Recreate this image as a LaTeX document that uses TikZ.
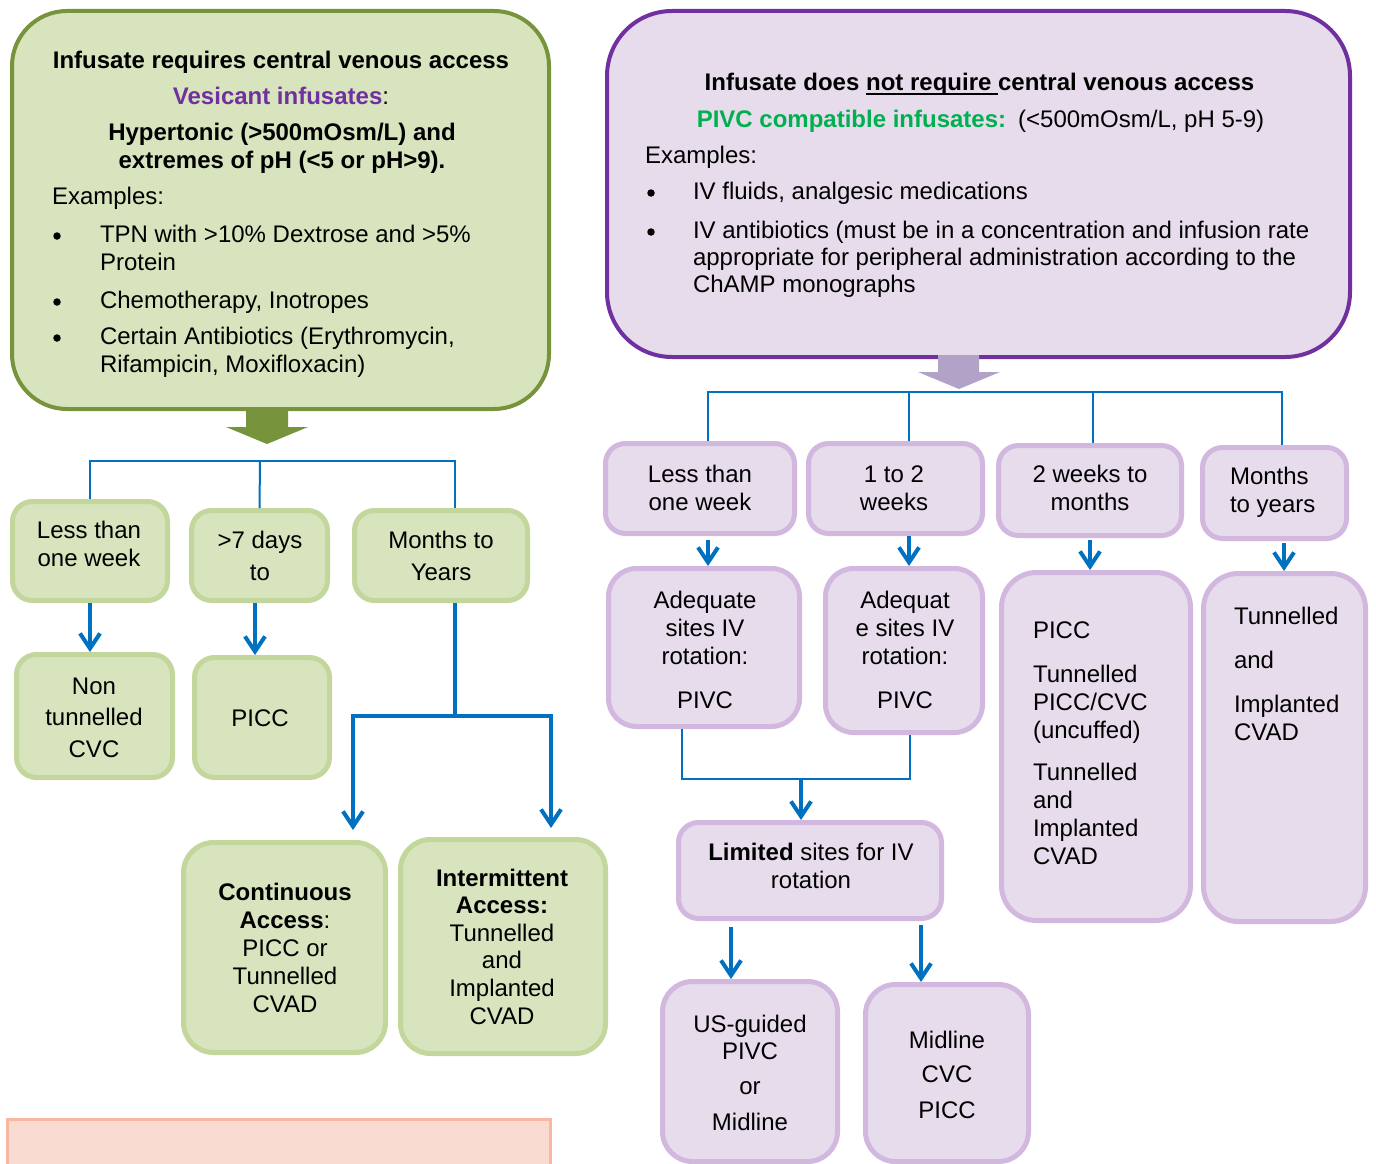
\documentclass[tikz,border=0pt]{standalone}
\usepackage{fontspec}
\setmainfont{Liberation Sans}
\usetikzlibrary{arrows.meta,calc}
\definecolor{gfill}{HTML}{D7E4BD}
\definecolor{gborder}{HTML}{77933C}
\definecolor{gnode}{HTML}{C3D69B}
\definecolor{pfill}{HTML}{E6DCEC}
\definecolor{pborder}{HTML}{7030A0}
\definecolor{pnode}{HTML}{D2B7DE}
\definecolor{parrowc}{HTML}{B3A2C7}
\definecolor{lblue}{HTML}{0070C0}
\definecolor{vpurple}{HTML}{7030A0}
\definecolor{pgreen}{HTML}{00B050}
\definecolor{pinkfill}{HTML}{FADBD2}
\definecolor{pinkborder}{HTML}{F7B7A3}
\newcommand\st{\rule[-7pt]{0pt}{26pt}}
\newcommand\myul[1]{\setbox0\hbox{#1}\rlap{\rule[-3.5pt]{\wd0}{1.5pt}}\box0}
\begin{document}
\begin{tikzpicture}[x=1pt,y=-1pt,
  gbig/.style={draw=gborder, fill=gfill, line width=4pt, rounded corners=55pt, inner sep=0pt},
  pbig/.style={draw=pborder, fill=pfill, line width=4pt, rounded corners=65pt, inner sep=0pt},
  gbox/.style={draw=gnode, fill=gfill, line width=5pt, rounded corners=20pt, inner sep=0pt},
  pbox/.style={draw=pnode, fill=pfill, line width=5pt, rounded corners=20pt, inner sep=0pt},
  txt/.style={inner sep=0pt, outer sep=0pt, font=\fontsize{24}{28}\selectfont, align=center},
  ltxt/.style={txt, align=left, anchor=west},
  bul/.style={circle, fill=black, minimum size=7.5pt, inner sep=0pt},
  thinln/.style={draw=lblue, line width=2pt},
  thickln/.style={draw=lblue, line width=4.5pt},
  arr/.style={draw=lblue, line width=4pt, -{Straight Barb[length=15pt,width=20pt]}},
]
\useasboundingbox (0,0) rectangle (1376,1164);
\fill[white] (0,0) rectangle (1376,1164);
\clip (0,0) rectangle (1376,1164);

% ---------- big boxes ----------
\node[gbig, minimum width=537pt, minimum height=398pt] (gbig) at (280.5,210) {};
\node[pbig, minimum width=743pt, minimum height=346pt] (pbig) at (978.5,184) {};

% block arrows
\fill[gborder] (246,407) -- (288,407) -- (288,427) -- (308,427) -- (267,444) -- (226,427) -- (246,427) -- cycle;
\fill[parrowc] (938,355) -- (979,355) -- (979,372) -- (1000,372) -- (959,389) -- (918,372) -- (938,372) -- cycle;

% left big box text
\node[txt, font=\fontsize{24}{28}\selectfont\bfseries] (gt1) at (281,63) {\st Infusate requires central venous access};
\node[txt] (gt2) at (281,98) {\st\textcolor{vpurple}{\textbf{Vesicant infusates}}:};
\node[txt, font=\fontsize{24}{28}\selectfont\bfseries] (gt3) at (282,148) {\st Hypertonic (>500mOsm/L) and\\extremes of pH (<5 or pH>9).\st};
\node[ltxt] (gt4) at (52,198) {\st Examples:};
\node[bul] (gb1) at (57,236) {};
\node[ltxt] (gt5) at (100,250) {\st TPN with >10\% Dextrose and >5\%\\Protein\st};
\node[bul] (gb2) at (57,302) {};
\node[ltxt] (gt6) at (100,302) {\st Chemotherapy, Inotropes};
\node[bul] (gb3) at (57,338) {};
\node[ltxt] (gt7) at (100,352) {\st Certain Antibiotics (Erythromycin,\\Rifampicin, Moxifloxacin)\st};

% right big box text
\node[txt, font=\fontsize{24}{28}\selectfont\bfseries] (pt1) at (979.5,85) {\st Infusate does \myul{not require\ }central venous access};
\node[txt] (pt2) at (980.5,121) {\st\textcolor{pgreen}{\textbf{PIVC compatible infusates:}}\hspace{12pt}(<500mOsm/L, pH 5-9)};
\node[ltxt] (pt3) at (645,157) {\st Examples:};
\node[bul] (pb1) at (651,193) {};
\node[ltxt] (pt4) at (693,193) {\st IV fluids, analgesic medications};
\node[bul] (pb2) at (651,232) {};
\node[ltxt, font=\fontsize{24}{27}\selectfont] (pt5) at (693,259) {\st IV antibiotics (must be in a concentration and infusion rate\\appropriate for peripheral administration according to the\\ChAMP monographs\st};

% ---------- left tree ----------
\node[gbox, minimum width=155pt, minimum height=99pt] (gL1) at (90,551) {};
\node[gbox, minimum width=136pt, minimum height=90pt] (gL2) at (259.5,555.5) {};
\node[gbox, minimum width=173pt, minimum height=90pt] (gL3) at (441,555.5) {};
\node[gbox, minimum width=156pt, minimum height=123pt] (gN) at (94.5,716) {};
\node[gbox, minimum width=135pt, minimum height=120pt] (gP) at (262,717.5) {};
\node[gbox, rounded corners=30pt, minimum width=202pt, minimum height=210pt] (gC) at (284.5,947.5) {};
\node[gbox, rounded corners=30pt, minimum width=205pt, minimum height=214pt] (gI) at (503,946.5) {};

\node[txt] (tL1) at (89,546) {\st Less than\\one week\st};
\node[txt, font=\fontsize{24}{32}\selectfont] (tL2) at (260,558) {\st >7 days\\to\st};
\node[txt, font=\fontsize{24}{32}\selectfont] (tL3) at (441,558) {\st Months to\\Years\st};
\node[txt, font=\fontsize{24}{31.5}\selectfont] (tN) at (94,719.5) {\st Non\\tunnelled\\CVC\st};
\node[txt] (tP) at (260,720) {\st PICC};
\node[txt] (tC) at (285,950) {\st\textbf{Continuous}\\\textbf{Access}:\\PICC or\\Tunnelled\\CVAD\st};
\node[txt, font=\fontsize{24}{27.6}\selectfont] (tI) at (502,949) {\st\textbf{Intermittent}\\\textbf{Access:}\\Tunnelled\\and\\Implanted\\CVAD\st};

\coordinate (gH) at (260,461);
\draw[thinln] (gL1.north) |- (gH) -| ($(gL3.north)+(14,0)$);
\draw[thinln] (gH) -- (gL2.north);
\draw[arr] (gL1.south) -- (gL1.south |- gN.north);
\draw[arr] ($(gL2.south)+(-4.5,0)$) coordinate (a2) -- (a2 |- gP.north);
\coordinate (mS) at ($(gL3.south)+(14,0)$);
\coordinate (mJ) at (455,716);
\draw[thickln] (mS) -- (mJ);
\draw[arr] (mJ) -| ($(gC.north)+(68.5,-10)$);
\draw[arr] (mJ) -| ($(gI.north)+(48,-9)$);

% pink box
\node[draw=pinkborder, fill=pinkfill, line width=3pt, inner sep=0pt, minimum width=543pt, minimum height=70pt] (pink) at (279,1154.5) {};

% ---------- right tree ----------
\node[pbox, minimum width=189pt, minimum height=90pt] (pL1) at (700,488.5) {};
\node[pbox, minimum width=174pt, minimum height=90pt] (pL2) at (895.5,488.5) {};
\node[pbox, minimum width=183pt, minimum height=90pt] (pL3) at (1090,490.5) {};
\node[pbox, minimum width=144pt, minimum height=91pt] (pL4) at (1274.5,493) {};
\node[pbox, rounded corners=28pt, minimum width=191pt, minimum height=158pt] (pA1) at (704,647.5) {};
\node[pbox, rounded corners=28pt, minimum width=157pt, minimum height=164pt] (pA2) at (904,650.5) {};
\node[pbox, rounded corners=35pt, minimum width=189pt, minimum height=348pt] (pB3) at (1096,746.5) {};
\node[pbox, rounded corners=35pt, minimum width=162pt, minimum height=348pt] (pB4) at (1284.5,747.5) {};
\node[pbox, minimum width=263pt, minimum height=96pt] (pLim) at (810,870.5) {};
\node[pbox, rounded corners=30pt, minimum width=175pt, minimum height=180pt] (pU) at (750,1071.5) {};
\node[pbox, rounded corners=30pt, minimum width=163pt, minimum height=177pt] (pM) at (947,1073) {};

\node[txt] (sL1) at (700,490) {\st Less than\\one week\st};
\node[txt] (sL2) at (894,490) {\st 1 to 2\\weeks\st};
\node[txt] (sL3) at (1090,490) {\st 2 weeks to\\months\st};
\node[ltxt] (sL4) at (1230,492) {\st Months\\to years\st};
\node[txt] (sA1) at (705,652) {\st Adequate\\sites IV\\rotation:\\[16pt]PIVC\st};
\node[txt] (sA2) at (905,652) {\st Adequat\\e sites IV\\rotation:\\[16pt]PIVC\st};
\node[ltxt] (sB3) at (1033,745) {\st PICC\\[16pt]Tunnelled\\PICC/CVC\\(uncuffed)\\[14pt]Tunnelled\\and\\Implanted\\CVAD\st};
\node[ltxt] (sB4) at (1234,676) {\st Tunnelled\\[16pt]and\\[16pt]Implanted\\CVAD\st};
\node[txt] (sLim) at (811,868) {\st\textbf{Limited} sites for IV\\rotation\st};
\node[txt, font=\fontsize{24}{27}\selectfont] (sU) at (750,1075) {\st US-guided\\PIVC\\[8pt]or\\[9pt]Midline\st};
\node[txt] (sM) at (947,1077) {\st Midline\\[6pt]CVC\\[8pt]PICC\st};

\coordinate (pH) at (959,392);
\draw[thinln] ($(pL1.north)+(8,0)$) |- (pH) -| ($(pL4.north)+(7.5,0)$);
\draw[thinln] ($(pL2.north)+(13.5,0)$) coordinate (q2) -- (q2 |- pH);
\draw[thinln] ($(pL3.north)+(3,0)$) coordinate (q3) -- (q3 |- pH);

\draw[arr] ($(pL1.south)+(8,4)$) coordinate (r1) -- (r1 |- pA1.north);
\draw[arr] ($(pL2.south)+(13.5,0)$) coordinate (r2) -- (r2 |- pA2.north);
\draw[arr] ($(pL3.south)+(0,2)$) coordinate (r3) -- (r3 |- pB3.north);
\draw[arr] ($(pL4.south)+(9.5,2)$) coordinate (r4) -- (r4 |- pB4.north);

\coordinate (aJ) at (801,779);
\draw[thinln] ($(pA1.south)+(-22,0)$) |- (aJ) -| ($(pA2.south)+(6,0)$);
\draw[arr] (aJ) -- (aJ |- pLim.north);
\draw[arr] ($(pLim.south)+(-79,6)$) coordinate (l1) -- (l1 |- pU.north);
\draw[arr] ($(pLim.south)+(111,4)$) coordinate (l2) -- (l2 |- pM.north);
\end{tikzpicture}
\end{document}
